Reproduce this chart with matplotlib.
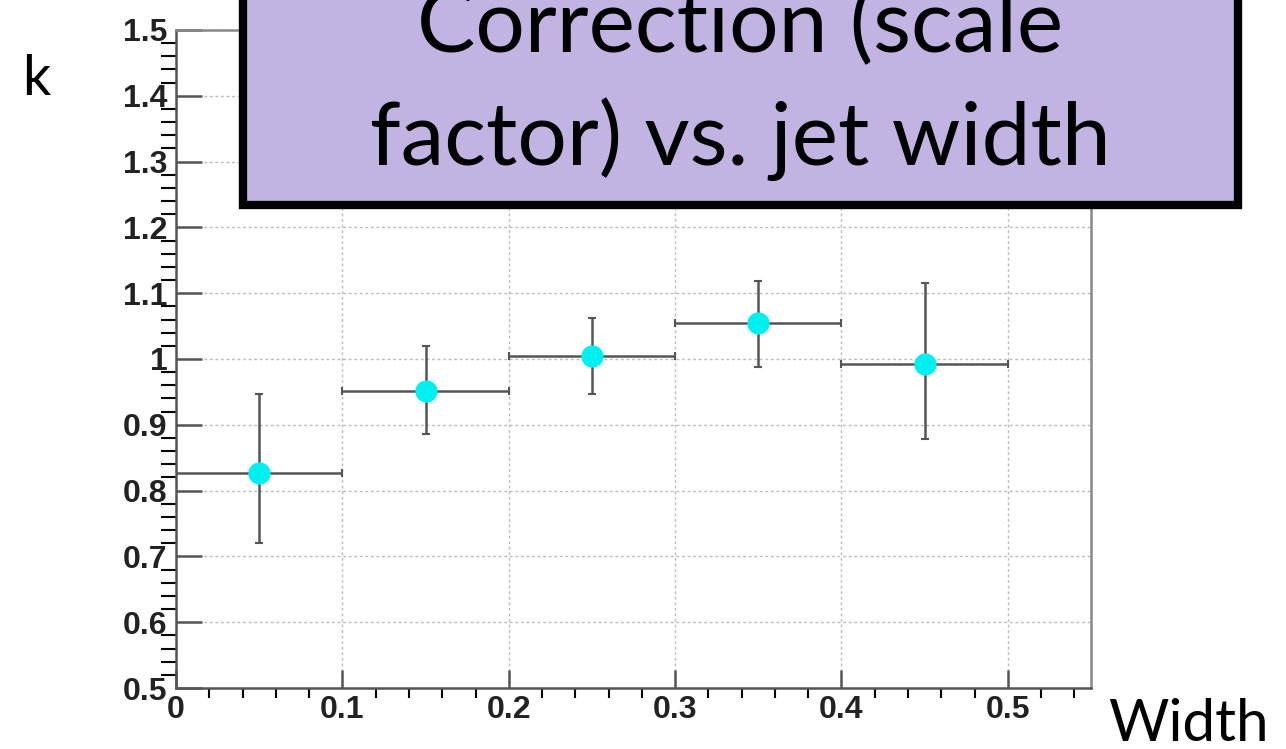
import numpy as np
import matplotlib.pyplot as plt
from matplotlib.patches import Rectangle
from matplotlib.ticker import MultipleLocator

# bin centres / edges of the jet width bins
width_centers = [0.05, 0.15, 0.25, 0.35, 0.45]
bin_half = [0.05, 0.05, 0.05, 0.05, 0.05]
# correction k with asymmetric errors
k_values = [0.827, 0.951, 1.004, 1.054, 0.993]
k_err_low = [0.107, 0.065, 0.057, 0.066, 0.115]
k_err_high = [0.120, 0.069, 0.059, 0.065, 0.122]

x_ticks = [0, 0.1, 0.2, 0.3, 0.4, 0.5]
y_ticks = [0.5, 0.6, 0.7, 0.8, 0.9, 1.0, 1.1, 1.2, 1.3, 1.4, 1.5]
y_labels = ['0.5', '0.6', '0.7', '0.8', '0.9', '1', '1.1', '1.2', '1.3', '1.4', '1.5']

title_lines = ['Correction (scale', 'factor) vs. jet width']

fig = plt.figure(figsize=(12.86, 7.49), dpi=100)
ax = fig.add_axes([0.1369, 0.0814, 0.7115, 0.8786])

ax.errorbar(width_centers, k_values, yerr=[k_err_low, k_err_high], xerr=bin_half,
            fmt='none', ecolor='#555555', elinewidth=1.8, capsize=3, capthick=1.5, zorder=3)
ax.plot(width_centers, k_values, 'o', color='#00f0f0', markersize=16,
        markeredgewidth=0, zorder=4)

ax.set_xlim(0, 0.55)
ax.set_ylim(0.5, 1.5)
ax.set_xticks(x_ticks)
ax.set_xticklabels(['0', '0.1', '0.2', '0.3', '0.4', '0.5'])
ax.set_yticks(y_ticks)
ax.set_yticklabels(y_labels)
ax.xaxis.set_minor_locator(MultipleLocator(0.02))
ax.yaxis.set_minor_locator(MultipleLocator(0.02))

ax.grid(True, which='major', linestyle=(0, (2, 2)), color='#bbbbbb', linewidth=1.0)
ax.set_axisbelow(True)

ax.tick_params(axis='both', direction='in', top=False, right=False,
               colors='#555555', labelcolor='#222222', width=1.8)
ax.tick_params(axis='y', which='major', length=19, pad=6)
ax.tick_params(axis='y', which='minor', length=11, width=1.5)
ax.tick_params(axis='x', which='major', length=13, pad=5)
ax.tick_params(axis='x', which='minor', length=7, width=1.5)
for lab in ax.get_xticklabels() + ax.get_yticklabels():
    lab.set_fontfamily('Liberation Sans')
    lab.set_fontweight('bold')
    lab.set_fontsize(23)

for s in ax.spines.values():
    s.set_color('#888888')
    s.set_linewidth(1.8)
ax.spines['left'].set_color('#555555')
ax.spines['bottom'].set_color('#555555')

# axis labels placed like the slide annotations
fig.text(0.017, 0.873, 'k', fontsize=40, fontfamily='Lato', ha='left', va='baseline')
fig.text(0.862, 0.011, 'Width', fontsize=42, fontfamily='Lato', ha='left', va='baseline')

# purple title box over the top of the plot
box = Rectangle((0.189, 0.7263), 0.7737, 0.32, transform=fig.transFigure,
                facecolor='#c2b4e2', edgecolor='black', linewidth=6, zorder=10,
                clip_on=False)
fig.patches.append(box)
fig.text(0.5755, 0.930, title_lines[0], fontsize=63, fontfamily='Lato',
         ha='center', va='baseline', zorder=11)
fig.text(0.5755, 0.780, title_lines[1], fontsize=63, fontfamily='Lato',
         ha='center', va='baseline', zorder=11)

plt.savefig('out.png', dpi=100)
